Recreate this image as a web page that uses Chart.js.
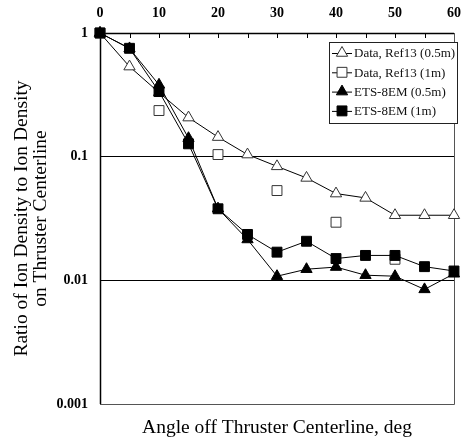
<!DOCTYPE html>
<html>
<head>
<meta charset="utf-8">
<script src="https://cdn.jsdelivr.net/npm/chart.js@4"></script>
<style>
  body { margin: 0; background: #fff; }
  canvas { display: block; }
</style>
</head>
<body>
<canvas id="chart" width="472" height="438"></canvas>
<script>
// angles off centerline, deg
const angles = [0, 5, 10, 15, 20, 25, 30, 35, 40, 45, 50, 55, 60];

// ion density ratio (null = no point)
const ref13Half = [1, 0.535, 0.33, 0.207, 0.144, 0.104, 0.0835, 0.0673, 0.0503, 0.0464, 0.0336, 0.0336, 0.0336];
const ref13One  = [1, null, 0.236, null, 0.104, null, 0.0532, null, 0.0295, null, 0.0148, null, null];
const etsHalf   = [1, 0.75, 0.381, 0.141, 0.038, 0.0214, 0.0108, 0.0123, 0.0128, 0.011, 0.0108, 0.00845, 0.0113];
const etsOne    = [1, 0.752, 0.336, 0.127, 0.0379, 0.0235, 0.0169, 0.0207, 0.015, 0.0159, 0.0159, 0.0129, 0.0119];

const xTicks = [0, 10, 20, 30, 40, 50, 60];
const yTicks = [0.001, 0.01, 0.1, 1];
const legendNames = ["Data, Ref13 (0.5m)", "Data, Ref13 (1m)", "ETS-8EM (0.5m)", "ETS-8EM (1m)"];

const serif = "'Liberation Serif', 'DejaVu Serif', serif";

function pts(vals) {
  return angles.map((a, i) => ({ x: a, y: vals[i] })).filter(p => p.y !== null);
}

function series(label, vals, style, filled, showLine, order) {
  return {
    label: label,
    data: pts(vals),
    borderColor: "#000",
    borderWidth: 1,
    pointStyle: style,
    pointRadius: style === "rect" ? 7 : 6.5,
    pointBorderWidth: 1,
    pointBorderColor: filled ? "#000" : "#333",
    pointBackgroundColor: filled ? "#000" : "#fff",
    showLine: showLine,
    tension: 0,
    clip: false,
    order: order
  };
}

function drawMarker(ctx, style, x, y, r, filled) {
  ctx.beginPath();
  if (style === "rect") {
    const s = r * Math.SQRT1_2;
    ctx.rect(x - s, y - s, 2 * s, 2 * s);
  } else {
    for (let k = 0; k < 3; k++) {
      const a = k * 2 * Math.PI / 3;
      const px = x + Math.sin(a) * r, py = y - Math.cos(a) * r;
      if (k === 0) ctx.moveTo(px, py); else ctx.lineTo(px, py);
    }
    ctx.closePath();
  }
  ctx.fillStyle = filled ? "#000" : "#fff";
  ctx.fill();
  ctx.strokeStyle = filled ? "#000" : "#333";
  ctx.lineWidth = 1;
  ctx.stroke();
}

const framePlugin = {
  id: "frame",
  beforeDatasetsDraw(chart) {
    const { ctx, chartArea: a, scales } = chart;
    ctx.save();
    // inner tick marks on the top axis
    ctx.strokeStyle = "#000";
    ctx.lineWidth = 1;
    for (let v = 0; v <= 60; v += 5) {
      const px = Math.round(scales.x.getPixelForValue(v)) + 0.5;
      ctx.beginPath();
      ctx.moveTo(px, a.top);
      ctx.lineTo(px, a.top + 5);
      ctx.stroke();
    }
    // frame
    ctx.strokeStyle = "#555";
    ctx.beginPath();
    ctx.moveTo(a.right + 0.5, a.top);
    ctx.lineTo(a.right + 0.5, a.bottom + 0.5);
    ctx.lineTo(a.left, a.bottom + 0.5);
    ctx.stroke();
    ctx.strokeStyle = "#000";
    ctx.lineWidth = 1.5;
    ctx.beginPath();
    ctx.moveTo(a.left + 0.5, a.bottom);
    ctx.lineTo(a.left + 0.5, a.top + 0.5);
    ctx.lineTo(a.right, a.top + 0.5);
    ctx.stroke();
    ctx.restore();
  },
  afterDatasetsDraw(chart) {
    const { ctx } = chart;
    ctx.save();
    // legend box
    const bx = 329, by = 42, bw = 128, bh = 81;
    ctx.lineWidth = 1;
    ctx.fillStyle = "#fff";
    ctx.fillRect(bx, by, bw, bh);
    ctx.strokeStyle = "#222";
    ctx.strokeRect(bx + 0.5, by + 0.5, bw, bh);
    const styles = [["triangle", false], ["rect", false], ["triangle", true], ["rect", true]];
    ctx.font = "13px " + serif;
    ctx.textBaseline = "middle";
    legendNames.forEach((name, i) => {
      const y = by + 11 + i * 19.3;
      ctx.strokeStyle = "#000";
      ctx.beginPath();
      ctx.moveTo(bx + 3, y + 0.5);
      ctx.lineTo(bx + 23, y + 0.5);
      ctx.stroke();
      drawMarker(ctx, styles[i][0], bx + 13, y, styles[i][0] === "rect" ? 7 : 6.5, styles[i][1]);
      ctx.fillStyle = "#111";
      ctx.fillText(name, bx + 25, y + 1);
    });
    ctx.restore();
  }
};

new Chart(document.getElementById("chart"), {
  type: "line",
  data: {
    datasets: [
      series(legendNames[0], ref13Half, "triangle", false, true, 3),
      series(legendNames[1], ref13One, "rect", false, false, 2),
      series(legendNames[2], etsHalf, "triangle", true, true, 1),
      series(legendNames[3], etsOne, "rect", true, true, 0)
    ]
  },
  options: {
    responsive: false,
    animation: false,
    layout: { padding: { left: 0, right: 9, top: 0, bottom: 0 } },
    plugins: {
      legend: { display: false },
      tooltip: { enabled: false }
    },
    scales: {
      x: {
        type: "linear",
        position: "top",
        min: 0,
        max: 60,
        afterBuildTicks: s => { s.ticks = xTicks.map(v => ({ value: v })); },
        afterFit: s => { s.height = 33; },
        grid: { display: false, drawTicks: false },
        border: { display: false },
        ticks: {
          padding: 11,
          color: "#000",
          font: { family: serif, size: 14, weight: "bold" }
        }
      },
      x2: {
        type: "linear",
        position: "bottom",
        min: 0,
        max: 60,
        afterFit: s => { s.height = 34; },
        grid: { display: false, drawTicks: false },
        border: { display: false },
        ticks: { display: false },
        title: {
          display: true,
          text: "Angle off Thruster Centerline, deg",
          color: "#000",
          padding: { top: 0, bottom: 0 },
          font: { family: serif, size: 19.5, lineHeight: 1.0 }
        }
      },
      y: {
        type: "logarithmic",
        position: "left",
        min: 0.001,
        max: 1,
        afterBuildTicks: s => { s.ticks = yTicks.map(v => ({ value: v })); },
        afterFit: s => { s.width = 100; },
        grid: { color: "#000", lineWidth: 1, drawTicks: false },
        border: { display: false },
        ticks: {
          padding: 12,
          color: "#000",
          font: { family: serif, size: 14, weight: "bold" },
          callback: v => String(v)
        },
        title: {
          display: true,
          text: ["Ratio of Ion Density to Ion Density", "on Thruster Centerline"],
          color: "#000",
          padding: { top: 12, bottom: 0 },
          font: { family: serif, size: 19.5, lineHeight: 1.0 }
        }
      }
    }
  },
  plugins: [framePlugin]
});
</script>
</body>
</html>
